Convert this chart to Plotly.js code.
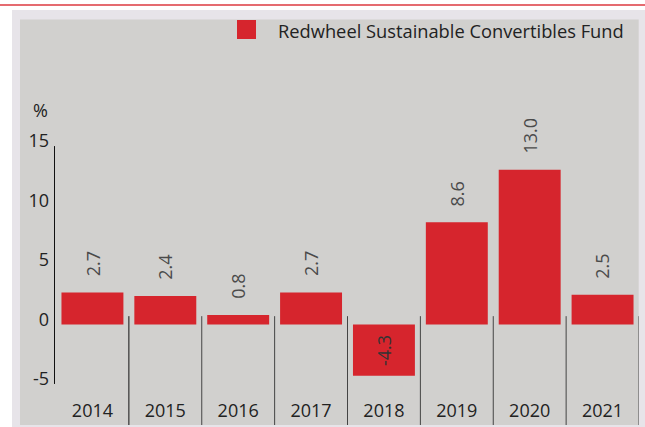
<!DOCTYPE html>
<html>
<head>
<meta charset="utf-8">
<script src="https://cdn.plot.ly/plotly-3.0.1.min.js"></script>
<style>
html,body{margin:0;padding:0;background:#fff;}
#chart{width:645px;height:427px;}
</style>
</head>
<body>
<div id="chart"></div>
<script>
// ---- data ----
const years = ['2014','2015','2016','2017','2018','2019','2020','2021'];
const fundValues = [2.7, 2.4, 0.8, 2.7, -4.3, 8.6, 13.0, 2.5];
const seriesName = 'Redwheel Sustainable Convertibles Fund';
const yTickVals = [-5, 0, 5, 10, 15];
const yTickText = ['-5', '0', '5', '10', '15'];
const yUnit = '%';

// ---- geometry helpers (pixel -> paper) ----
const W = 645, H = 427;
const M = {l: 56, r: 6, t: 20, b: 2};
const PW = W - M.l - M.r, PH = H - M.t - M.b;
const px = x => (x - M.l) / PW;
const py = y => (H - M.b - y) / PH;

const RED = '#d6252d';
const yRange = [-8.45, 25.6];

const shapes = [
  {type:'line', xref:'paper', yref:'paper', x0:px(0), x1:px(645), y0:py(5), y1:py(5),
   line:{color:'#dc3a40', width:1.5}, layer:'below'},
  {type:'rect', xref:'paper', yref:'paper', x0:px(12), x1:px(646), y0:py(10), y1:py(428),
   fillcolor:'#e7e4e9', line:{width:0}, layer:'below'},
  {type:'rect', xref:'paper', yref:'paper', x0:px(20), x1:px(638.7), y0:py(19.5), y1:py(425),
   fillcolor:'#d1d0ce', line:{width:0}, layer:'below'},
  {type:'line', xref:'paper', yref:'y', x0:px(54.5), x1:px(54.5), y0:-5, y1:15,
   line:{color:'#111', width:1}},
  {type:'rect', xref:'paper', yref:'paper', x0:px(237), x1:px(256), y0:py(20), y1:py(39),
   fillcolor:RED, line:{width:0}}
];
years.forEach((y, i) => {
  shapes.push({type:'line', xref:'x', yref:'y', x0:i+0.5, x1:i+0.5, y0:0.7, y1:yRange[0],
    line:{color: i === 0 ? '#111' : '#444', width:1}});
});

const annotations = [
  {xref:'paper', yref:'paper', x:px(40), y:py(110), text:yUnit, showarrow:false,
   font:{family:'Open Sans', size:18, color:'#222'}, xanchor:'center', yanchor:'middle'},
  {xref:'paper', yref:'paper', x:px(276), y:py(30), text:seriesName, showarrow:false,
   font:{family:'Open Sans', size:18.3, color:'#222'}, xanchor:'left', yanchor:'middle'}
];
fundValues.forEach((v, i) => {
  const label = v.toFixed(1);
  if (v >= 0) {
    annotations.push({x:i, y:v, xref:'x', yref:'y', text:label, showarrow:false,
      textangle:-90, xanchor:'center', yanchor:'bottom', yshift:14,
      font:{family:'Open Sans', size:18, color:'#4a4a4a'}});
  } else {
    annotations.push({x:i, y:v/2, xref:'x', yref:'y', text:label, showarrow:false,
      textangle:-90, xanchor:'center', yanchor:'middle',
      font:{family:'Open Sans', size:18, color:'#333'}});
  }
});

const trace = {
  type:'bar', x:years, y:fundValues, name:seriesName,
  marker:{color:RED, line:{width:0}}, hoverinfo:'x+y'
};

const layout = {
  width:W, height:H, margin:M,
  paper_bgcolor:'#ffffff', plot_bgcolor:'rgba(0,0,0,0)',
  showlegend:false, bargap:0.15,
  font:{family:'Open Sans', size:18, color:'#222'},
  xaxis:{type:'category', range:[-0.5, years.length-0.5], showgrid:false, zeroline:false,
    showline:false, ticks:'', ticklabelposition:'inside', ticklabelstandoff:1,
    tickfont:{family:'Open Sans', size:18, color:'#222'}, fixedrange:true},
  yaxis:{range:yRange, tickvals:yTickVals, ticktext:yTickText, showgrid:false, zeroline:false,
    showline:false, ticks:'', ticklabelstandoff:6, ticklabelshift:-5,
    tickfont:{family:'Open Sans', size:18, color:'#222'}, fixedrange:true},
  shapes:shapes, annotations:annotations
};

Plotly.newPlot('chart', [trace], layout, {displayModeBar:false, staticPlot:true});
</script>
</body>
</html>
